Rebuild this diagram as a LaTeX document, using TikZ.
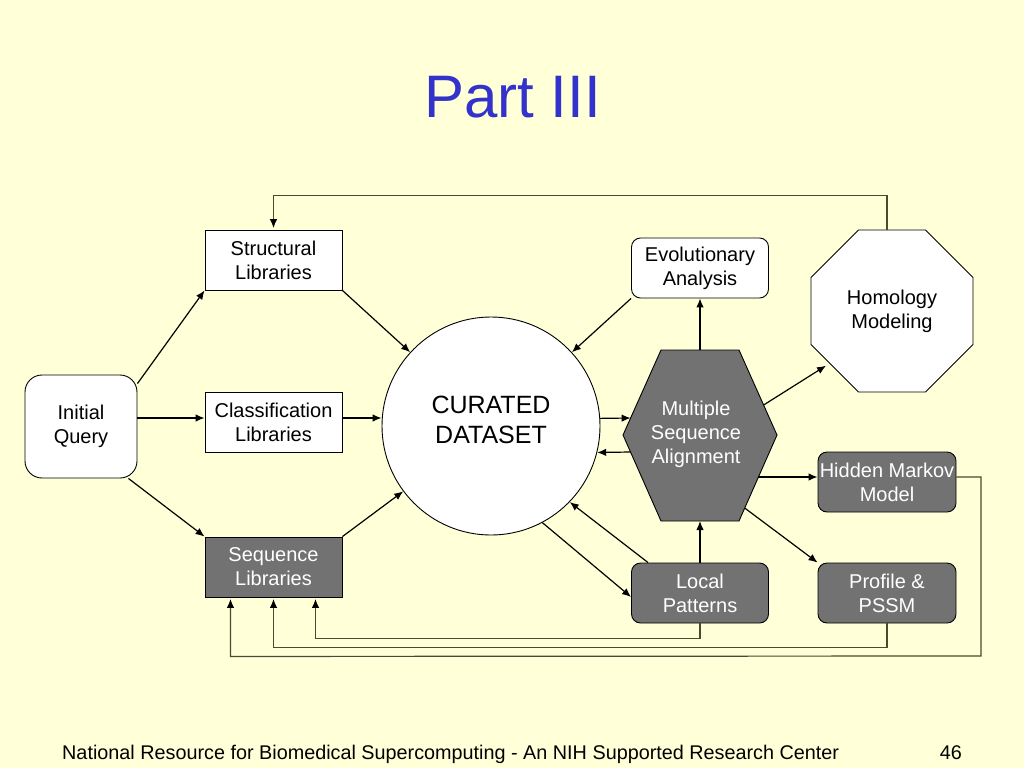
\documentclass[tikz,border=0pt]{standalone}
\usepackage{fontspec}
\setmainfont{Liberation Sans}
\usetikzlibrary{shapes.geometric,arrows.meta,calc}
\definecolor{bg}{HTML}{FFFFD8}
\definecolor{boxgray}{HTML}{727272}
\definecolor{titleblue}{HTML}{3333CC}
\definecolor{loopcol}{HTML}{4A4A30}
\begin{document}
\begin{tikzpicture}[x=1pt,y=-1pt,
  lbl/.style={font=\fontsize{20}{24}\selectfont, align=center, inner sep=0pt},
  sqbox/.style={lbl, draw=black, line width=0.9pt, fill=white, minimum width=137pt, minimum height=60pt},
  rbox/.style={sqbox, rounded corners=9pt},
  dbox/.style={fill=boxgray, text=white},
  arr/.style={-{Latex[length=9pt,width=7.5pt,color=black]}, line width=1.2pt, draw=black},
  fb/.style={arr, draw=loopcol, shorten >=1.5pt},
]
\path[fill=bg] (0,0) rectangle (1024,768);
\useasboundingbox (0,0) rectangle (1024,768);

% title and footer
\node[font=\fontsize{60}{72}\selectfont, text=titleblue, anchor=base, inner sep=0pt] (title) at (512.5,117) {Part III};
\node[font=\fontsize{19.8}{24}\selectfont, anchor=base west, inner sep=0pt] (foot) at (62,759) {National Resource for Biomedical Supercomputing - An NIH Supported Research Center};
\node[font=\fontsize{19.8}{24}\selectfont, anchor=base east, inner sep=0pt] (pg) at (962,759) {46};

% nodes
\node[rbox, rounded corners=17pt, minimum width=112pt, minimum height=103pt] (iq) at (81,426.5) {Initial\\Query};
\node[sqbox] (sl) at (273.5,260) {Structural\\Libraries};
\node[sqbox] (cl) at (273.5,422) {Classification\\Libraries};
\node[sqbox, dbox] (seq) at (273.5,567) {Sequence\\Libraries};
\node[circle, draw=black, fill=white, line width=0.9pt, minimum size=218pt, inner sep=0pt,
      label={[font=\fontsize{25}{30}\selectfont, align=center, yshift=6pt]center:{CURATED\\DATASET}}] (cd) at (491,426) {};
\node[rbox] (ea) at (700,268) {Evolutionary\\Analysis};
\node[rbox, dbox] (lp) at (700,593) {Local\\Patterns};
\node[rbox, dbox, minimum width=138pt] (hmm) at (887,482) {Hidden Markov\\Model};
\node[rbox, dbox, minimum width=138pt] (pp) at (887,593) {Profile \&\\PSSM};
\node[regular polygon, regular polygon sides=8, draw=black, fill=white, line width=0.9pt,
      minimum size=175.3pt, lbl] (hm) at (892,311) {Homology\\Modeling};

% hexagon
\coordinate (h1) at (623,435);
\coordinate (h2) at (661,350);
\coordinate (h3) at (739,350);
\coordinate (h4) at (777,435);
\coordinate (h5) at (739,521);
\coordinate (h6) at (661,521);
\draw[fill=boxgray, line width=0.9pt] (h1) -- (h2) -- (h3) -- (h4) -- (h5) -- (h6) -- cycle;
\node[lbl, text=white] (msa) at (696,434) {Multiple\\Sequence\\Alignment};

% connectors
\coordinate (clin) at ($(cl.west)+(0,-4)$);
\coordinate (clout) at ($(cl.east)+(0,-4)$);
\draw[arr] ([yshift=-9pt]iq.north east) -- (sl.south west);
\draw[arr] (iq.east |- clin) -- (clin);
\draw[arr] ($(iq.south east)+(-9,0)$) -- (seq.north west);
\draw[arr] (clout) -- (clout -| cd.west);
\draw[arr] (sl.south east) -- (cd);
\draw[arr] (seq.north east) -- (cd);
\draw[arr] (ea.south west) -- (cd);

\coordinate (min) at (630.6,418);
\coordinate (mout) at (630.6,452);
\draw[arr] (cd.4) -- (min);
\draw[arr] (mout) -- (cd.-14);
\draw[arr] (ea.south |- h2) -- (ea.south);
\draw[arr] (lp.north) -- (lp.north |- h6);

\coordinate (mhm) at (763.6,405);
\coordinate (mhmm) at (758.4,477);
\coordinate (mpp) at (744.7,508);
\draw[arr, shorten >=4pt] (mhm) -- (hm.220);
\draw[arr] (mhmm) -- (mhmm -| hmm.west);
\draw[arr] (mpp) -- (pp.north west);

\draw[arr] (cd.-62) -- ($(lp.west)+(0,4)$);
\draw[arr] ($(lp.north west)+(17,0)$) -- (cd.-44);

% feedback loops
\draw[fb] ([xshift=-5pt]hm.north) -- ++(0,-34) -| (sl.north);
\coordinate (seqa) at ($(seq.south)+(-43,0)$);
\coordinate (seqc) at ($(seq.south)+(42,0)$);
\coordinate (fbr) at (981,656);
\coordinate (fa) at ($(seq.south)+(-43,59)$);
\coordinate (fb2) at ($(seq.south)+(0,50)$);
\coordinate (fc) at ($(seq.south)+(42,41)$);
\draw[fb] ([yshift=5pt]hmm.east) -| (fbr) -- (fa) -- (seqa);
\draw[fb] (pp.south) |- (fb2) -- (seq.south);
\draw[fb] (lp.south) |- (fc) -- (seqc);
\end{tikzpicture}
\end{document}
